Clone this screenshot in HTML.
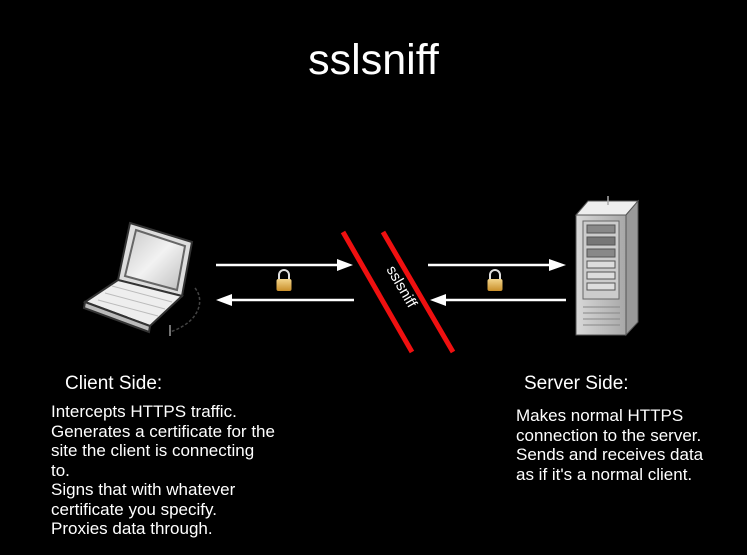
<!DOCTYPE html>
<html><head><meta charset="utf-8"><style>
html,body{margin:0;padding:0;background:#000;}
body{width:747px;height:555px;overflow:hidden;position:relative;font-family:"Liberation Sans",sans-serif;color:#fff;}
.t{position:absolute;white-space:nowrap;}
</style></head><body>
<svg width="747" height="555" style="position:absolute;left:0;top:0">
<defs>
<linearGradient id="lk" x1="0" y1="0" x2="0" y2="1"><stop offset="0" stop-color="#f3d58a"/><stop offset="1" stop-color="#c98f2a"/></linearGradient>
<linearGradient id="sv" x1="0" y1="0" x2="1" y2="0"><stop offset="0" stop-color="#d8d8d8"/><stop offset="1" stop-color="#a8a8a8"/></linearGradient>
<linearGradient id="scr" x1="0" y1="0" x2="1" y2="1"><stop offset="0" stop-color="#c8c8c8"/><stop offset=".5" stop-color="#f2f2f2"/><stop offset="1" stop-color="#bdbdbd"/></linearGradient>
</defs>
<g stroke="#fff" stroke-width="2.5" fill="#fff">
<line x1="216" y1="265" x2="340" y2="265"/><polygon points="353,265 337,259 337,271" stroke="none"/>
<line x1="354" y1="300" x2="230" y2="300"/><polygon points="216,300 232,294 232,306" stroke="none"/>
<line x1="428" y1="265" x2="552" y2="265"/><polygon points="566,265 549,259 549,271" stroke="none"/>
<line x1="566" y1="300" x2="444" y2="300"/><polygon points="430,300 446,294 446,306" stroke="none"/>
</g>
<g>
<path d="M279,279 v-4 a5,5 0 0 1 10,0 v4" fill="none" stroke="#ddd" stroke-width="2"/>
<rect x="276.5" y="279" width="15" height="12" rx="2" fill="url(#lk)"/>
<path d="M490,279 v-4 a5,5 0 0 1 10,0 v4" fill="none" stroke="#ddd" stroke-width="2"/>
<rect x="487.5" y="279" width="15" height="12" rx="2" fill="url(#lk)"/>
</g>
<line x1="343" y1="232" x2="412" y2="352" stroke="#f01010" stroke-width="5"/>
<line x1="383" y1="232" x2="453" y2="352" stroke="#f01010" stroke-width="5"/>
<text x="0" y="0" transform="translate(401,287) rotate(60)" text-anchor="middle" dominant-baseline="middle" font-family="Liberation Sans" font-size="15" fill="#fff">sslsniff</text>
<g stroke="#333" stroke-width="2">
<path d="M130,223 L192,242 L182,296 L118,280 Z" fill="#ddd"/>
<path d="M136,230 L185,246 L177,290 L125,276 Z" fill="url(#scr)" stroke="#666"/>
<path d="M118,280 L182,296 L150,326 L85,302 Z" fill="#eee"/>
<path d="M85,302 L150,326 L149,332 L84,308 Z" fill="#bbb"/>
</g>
<g stroke="#bbb" stroke-width="1">
<line x1="112" y1="286" x2="172" y2="302"/><line x1="105" y1="293" x2="165" y2="309"/><line x1="98" y1="300" x2="158" y2="316"/>
</g>
<path d="M195,288 C205,300 200,322 170,332" fill="none" stroke="#444" stroke-dasharray="3,2" stroke-width="1.5"/>
<line x1="170" y1="325" x2="170" y2="336" stroke="#999" stroke-width="1.5"/>
<polygon points="576,215 588,201 638,201 626,215" fill="#eee" stroke="#555"/>
<polygon points="626,215 638,201 638,322 626,335" fill="#999" stroke="#555"/>
<rect x="576" y="215" width="50" height="120" fill="url(#sv)" stroke="#555"/>
<rect x="583" y="221" width="36" height="78" fill="#ccc" stroke="#666"/>
<g fill="#ddd" stroke="#555">
<rect x="587" y="225" width="28" height="8" fill="#888"/><rect x="587" y="237" width="28" height="8" fill="#777"/><rect x="587" y="249" width="28" height="8" fill="#888"/>
<rect x="587" y="261" width="28" height="7"/><rect x="587" y="272" width="28" height="7"/><rect x="587" y="283" width="28" height="7"/>
</g>
<g stroke="#888" stroke-width="1">
<line x1="583" y1="307" x2="620" y2="307"/><line x1="583" y1="313" x2="620" y2="313"/><line x1="583" y1="319" x2="620" y2="319"/><line x1="583" y1="325" x2="620" y2="325"/>
</g>
<line x1="608" y1="196" x2="608" y2="205" stroke="#aaa" stroke-width="1.5"/>
</svg>
<div class="t" style="left:0;width:747px;text-align:center;top:36px;font-size:43px;">sslsniff</div>
<div class="t" style="left:65px;top:373px;font-size:19px;">Client Side:</div>
<div class="t" style="left:51px;top:402px;font-size:17px;line-height:19.5px;">Intercepts HTTPS traffic.<br>Generates a certificate for the<br>site the client is connecting<br>to.<br>Signs that with whatever<br>certificate you specify.<br>Proxies data through.</div>
<div class="t" style="left:524px;top:373px;font-size:19px;">Server Side:</div>
<div class="t" style="left:516px;top:406px;font-size:17px;line-height:19.5px;">Makes normal HTTPS<br>connection to the server.<br>Sends and receives data<br>as if it's a normal client.</div>
</body></html>
